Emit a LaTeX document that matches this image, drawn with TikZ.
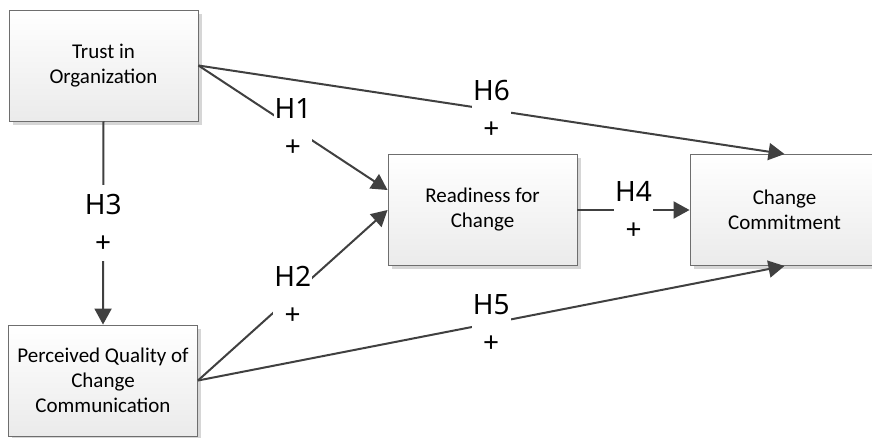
\documentclass[tikz,border=0pt]{standalone}
\usepackage{fontspec}
\setmainfont{Carlito}
\newfontfamily\lblfont{Noto Sans}
\usetikzlibrary{arrows.meta,shadows}
\definecolor{lineC}{HTML}{404040}
\definecolor{borderC}{HTML}{6E6E6E}
\definecolor{shadowC}{HTML}{D6D6D6}
\begin{document}
\begin{tikzpicture}[x=1pt,y=-1pt,
  box/.style={draw=borderC, line width=0.9pt, top color=white, bottom color=black!8,
    minimum width=189pt, minimum height=111pt, align=center, inner sep=0pt,
    font=\fontsize{21}{25}\selectfont,
    drop shadow={shadow xshift=3.5pt, shadow yshift=-3.5pt, fill=shadowC, opacity=1}},
  conn/.style={draw=lineC, line width=2pt, -{Triangle[length=16pt,width=17pt]}},
  lbl/.style={fill=white, align=center, font=\lblfont\fontsize{28}{38}\selectfont,
    inner xsep=1pt, inner ysep=9pt}]
\useasboundingbox (0,0) rectangle (872,437);
\fill[white] (0,0) rectangle (872,437);

\node[box] (trust) at (103.5,65.5) {Trust in\\Organization};
\node[box] (perc) at (103,380.5) {Perceived Quality of\\Change\\Communication};
\node[box] (read) at (482.5,210) {Readiness for\\Change};
\node[box] (comm) at (784.5,210) {Change\\Commitment};

\draw[conn] (trust.east) -- node[lbl] (l6) {H6\\+} (comm.north);
\draw[conn] (trust.east) -- node[lbl] (l1) {H1\\+} ([yshift=20pt]read.west);
\draw[conn] (trust.south) -- node[lbl] (l3) {H3\\+} (perc.north);
\draw[conn] (perc.east) -- node[lbl] (l2) {H2\\+} (read.west);
\draw[conn] (perc.east) -- node[lbl] (l5) {H5\\+} (comm.south);
\draw[conn] (read.east) -- node[lbl] (l4) {H4\\+} (comm.west);
\end{tikzpicture}
\end{document}
